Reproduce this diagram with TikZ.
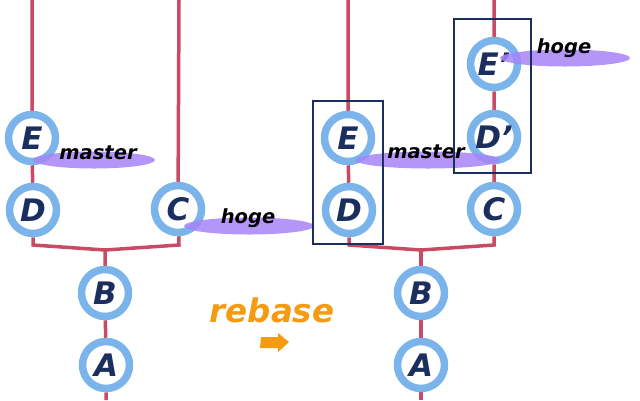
\documentclass[tikz,border=0pt]{standalone}
\usepackage{fontspec}
\setmainfont{DejaVu Sans}
\usetikzlibrary{shapes.geometric,backgrounds}
\definecolor{ringc}{HTML}{7AB4EA}
\definecolor{navy}{HTML}{1B2F5E}
\definecolor{branchc}{HTML}{C84A64}
\definecolor{tagc}{HTML}{A684F7}
\definecolor{orangec}{HTML}{F59B12}
\begin{document}
\begin{tikzpicture}[x=1pt,y=-1pt,
  commit/.style={circle,draw=ringc,line width=7.5pt,fill=white,minimum size=47pt,inner sep=0pt,text=navy,
    font=\fontsize{31}{33}\selectfont\bfseries\itshape},
  edge/.style={draw=branchc,line width=3.5pt},
  tagbg/.style={ellipse,fill=tagc,fill opacity=0.85,inner sep=0pt},
  tagtext/.style={text=black,font=\fontsize{19.5}{21}\selectfont\bfseries\itshape,inner sep=0pt},
  grp/.style={draw=navy,line width=1.6pt}]
\useasboundingbox (0,0) rectangle (640,400);
% left graph
\node[commit] (E) at (32,138) {E};
\node[commit] (D) at (33,210) {D};
\node[commit] (C) at (178,209) {C};
\node[commit] (B) at (105,293) {B};
\node[commit] (A) at (106,365) {A};
\coordinate (Etop) at (32,0);
\coordinate (Ctop) at (179,0);
\coordinate (dl) at (33,245);
\coordinate (ml) at (105,250);
\coordinate (cl) at (179,245);
\coordinate (Abot) at (106,400);
% right graph
\node[commit] (E2) at (348,138) {E};
\node[commit] (D2) at (349,210) {D};
\node[commit] (C2) at (494,209) {C};
\node[commit] (B2) at (421,293) {B};
\node[commit] (A2) at (421,365) {A};
\node[commit] (Dp) at (494,137) {D'};
\node[commit] (Ep) at (494,64) {E'};
\coordinate (E2top) at (348,0);
\coordinate (Eptop) at (494,0);
\coordinate (dr) at (349,245);
\coordinate (mr) at (421,250);
\coordinate (cr) at (494,245);
\coordinate (A2bot) at (421,400);
\begin{scope}[on background layer]
\draw[edge] (Etop) -- (E) -- (D) -- (dl) -- (ml) -- (cl) -- (C) -- (Ctop);
\draw[edge] (ml) -- (B) -- (A) -- (Abot);
\draw[edge] (E2top) -- (E2) -- (D2) -- (dr) -- (mr) -- (cr) -- (C2) -- (Dp) -- (Ep) -- (Eptop);
\draw[edge] (mr) -- (B2) -- (A2) -- (A2bot);
\end{scope}
% tags
\node[tagbg,minimum width=122pt,minimum height=17pt] (m1bg) at (94,160) {};
\node[tagtext] (m1) at (98,153) {master};
\node[tagbg,minimum width=130pt,minimum height=17pt] (h1bg) at (249,226) {};
\node[tagtext] (h1) at (248,218) {hoge};
\node[tagbg,minimum width=145pt,minimum height=17pt] (m2bg) at (428,160) {};
\node[tagtext] (m2) at (426,152) {master};
\node[tagbg,minimum width=130pt,minimum height=17pt] (h2bg) at (565,58) {};
\node[tagtext] (h2) at (564,48) {hoge};
% groups
\draw[grp] (313,101) rectangle (383,244);
\draw[grp] (454,19) rectangle (531,173);
% rebase
\node[text=orangec,font=\fontsize{32.5}{34}\selectfont\bfseries\itshape,inner sep=0pt] (rb) at (272,310) {rebase};
\fill[orangec] (261,337) -- (278,337) -- (278,333) -- (289,342) -- (278,352) -- (278,348) -- (260,348) -- cycle;
\end{tikzpicture}
\end{document}
